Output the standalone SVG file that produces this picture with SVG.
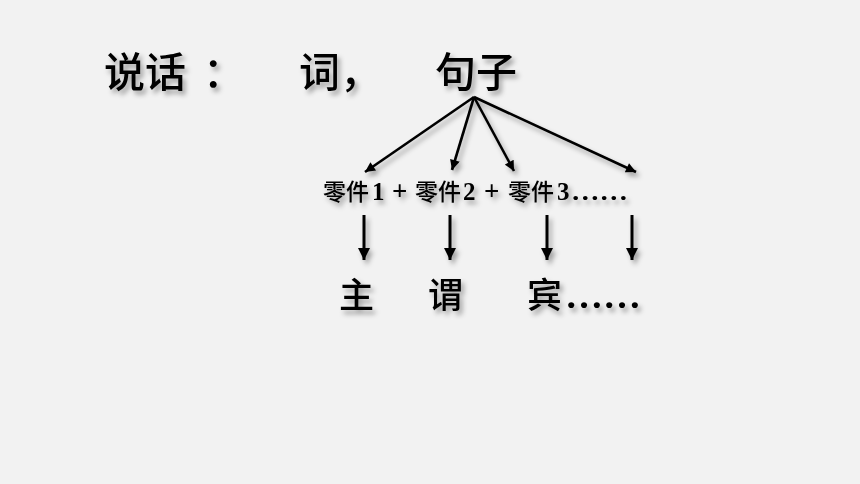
<svg xmlns="http://www.w3.org/2000/svg" width="860" height="484" viewBox="0 0 860 484">
<defs>
<filter id="sh" x="-20%" y="-20%" width="140%" height="160%">
<feDropShadow dx="3" dy="4" stdDeviation="2.5" flood-color="#000" flood-opacity="0.35"/>
</filter>
<marker id="ah" viewBox="0 0 10 10" refX="10" refY="5" markerWidth="12" markerHeight="10" markerUnits="userSpaceOnUse" orient="auto">
<path d="M0,0 L10,5 L0,10 z" fill="#000"/>
</marker>
<marker id="ahd" viewBox="0 0 10 10" refX="10" refY="5" markerWidth="12" markerHeight="14" markerUnits="userSpaceOnUse" orient="auto">
<path d="M0,0 L10,5 L0,10 z" fill="#000"/>
</marker>
</defs>
<style>
.cjk{font-family:"Noto Sans CJK SC","Noto Sans",sans-serif;fill:#000}
.num{font-family:"Liberation Serif",serif;font-weight:bold;fill:#000}
.big{font-size:41px;font-weight:500}
.mid{font-size:23px;font-weight:500}
.role{font-size:35px;font-weight:500}
.ln{stroke:#000;stroke-width:2.6;fill:none;marker-end:url(#ah)}
.dn{stroke:#000;stroke-width:3;fill:none;marker-end:url(#ahd)}
</style>
<rect width="860" height="484" fill="#f2f2f2"/>
<g id="title" filter="url(#sh)">
<text class="cjk big" x="104" y="87">说话</text>
<text class="cjk big" x="203" y="87">：</text>
</g>
<g id="word" filter="url(#sh)">
<text class="cjk big" x="299" y="87">词，</text>
</g>
<g id="sentence" filter="url(#sh)">
<text class="cjk big" x="435" y="87">句子</text>
</g>
<g id="connectors" filter="url(#sh)">
<line class="ln" x1="474" y1="97" x2="365" y2="172"/>
<line class="ln" x1="474" y1="97" x2="452" y2="170"/>
<line class="ln" x1="474" y1="97" x2="514" y2="171"/>
<line class="ln" x1="474" y1="97" x2="636" y2="172"/>
<line class="dn" x1="364" y1="215" x2="364" y2="260"/>
<line class="dn" x1="450" y1="215" x2="450" y2="260"/>
<line class="dn" x1="547" y1="215" x2="547" y2="260"/>
<line class="dn" x1="632" y1="215" x2="632" y2="260"/>
</g>
<g id="parts" filter="url(#sh)">
<text class="cjk mid" x="323" y="200">零件</text>
<text class="num" font-size="25" x="372" y="200">1</text>
<text class="num" font-size="27" x="392" y="200">+</text>
<text class="cjk mid" x="415" y="200">零件</text>
<text class="num" font-size="25" x="463" y="200">2</text>
<text class="num" font-size="27" x="484" y="200">+</text>
<text class="cjk mid" x="508" y="200">零件</text>
<text class="num" font-size="25" x="557" y="200">3</text>
<text class="num" font-size="26" x="571" y="200" textLength="57" lengthAdjust="spacingAndGlyphs">……</text>
</g>
<g id="roles" filter="url(#sh)">
<text class="cjk role" x="339" y="308">主</text>
<text class="cjk role" x="428" y="308">谓</text>
<text class="cjk role" x="527" y="308">宾</text>
<text class="num" font-size="36" x="565" y="308" textLength="76" lengthAdjust="spacingAndGlyphs">……</text>
</g>
</svg>
